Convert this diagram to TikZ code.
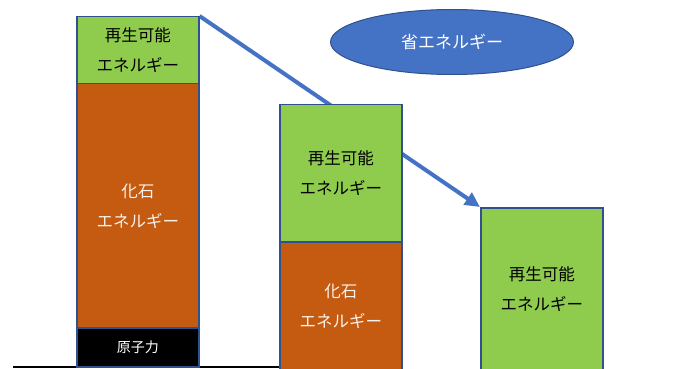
\documentclass[tikz,border=0pt]{standalone}
\usepackage{fontspec}
\setmainfont{Noto Sans CJK JP}
\usetikzlibrary{shapes.geometric,arrows.meta,backgrounds}
\definecolor{barblue}{HTML}{2F528F}
\definecolor{arrowblue}{HTML}{4472C4}
\definecolor{rengreen}{HTML}{8FCC4E}
\definecolor{fosorange}{HTML}{C55A11}
\begin{document}
\begin{tikzpicture}[x=1pt,y=-1pt,
  barbox/.style={draw=barblue,line width=1.5pt,inner sep=0pt,anchor=north west,align=center,
    font=\fontsize{16.5}{30}\selectfont},
  renbox/.style={barbox,fill=rengreen,text=black},
  fosbox/.style={barbox,fill=fosorange,text=white!92!fosorange},
  nucbox/.style={barbox,fill=black,text=white,font=\fontsize{14}{20}\selectfont}]
\useasboundingbox (0,0) rectangle (673,369);
% bar 1
\node[renbox,minimum width=122pt,minimum height=67pt] (r1) at (76,16) {再生可能\\エネルギー};
\node[fosbox,minimum width=122pt,minimum height=244pt] (f1) at (76,83) {化石\\エネルギー};
\node[nucbox,minimum width=122pt,minimum height=39pt] (n1) at (76,327) {原子力};
% bar 2
\node[renbox,minimum width=122pt,minimum height=137pt] (r2) at (279,104) {再生可能\\エネルギー};
\node[fosbox,minimum width=122pt,minimum height=128pt] (f2) at (279,241) {化石\\エネルギー};
% bar 3
\node[renbox,minimum width=122pt,minimum height=163pt] (r3) at (480,207) {再生可能\\エネルギー};
% ellipse
\node[ellipse,draw=barblue,fill=arrowblue,line width=1pt,minimum width=243pt,minimum height=65pt,
  text=white,font=\fontsize{17}{20}\selectfont] (se) at (452,42) {省エネルギー};
% background: arrow and ground line
\begin{scope}[on background layer]
\coordinate (g0) at (13,367);
\draw[black,line width=2pt] (g0) -- (f2.south west |- g0);
\draw[arrowblue,line width=4pt,-{Triangle[length=15pt,width=14pt]}] (r1.north east) -- (r3.north west);
\end{scope}
\end{tikzpicture}
\end{document}
